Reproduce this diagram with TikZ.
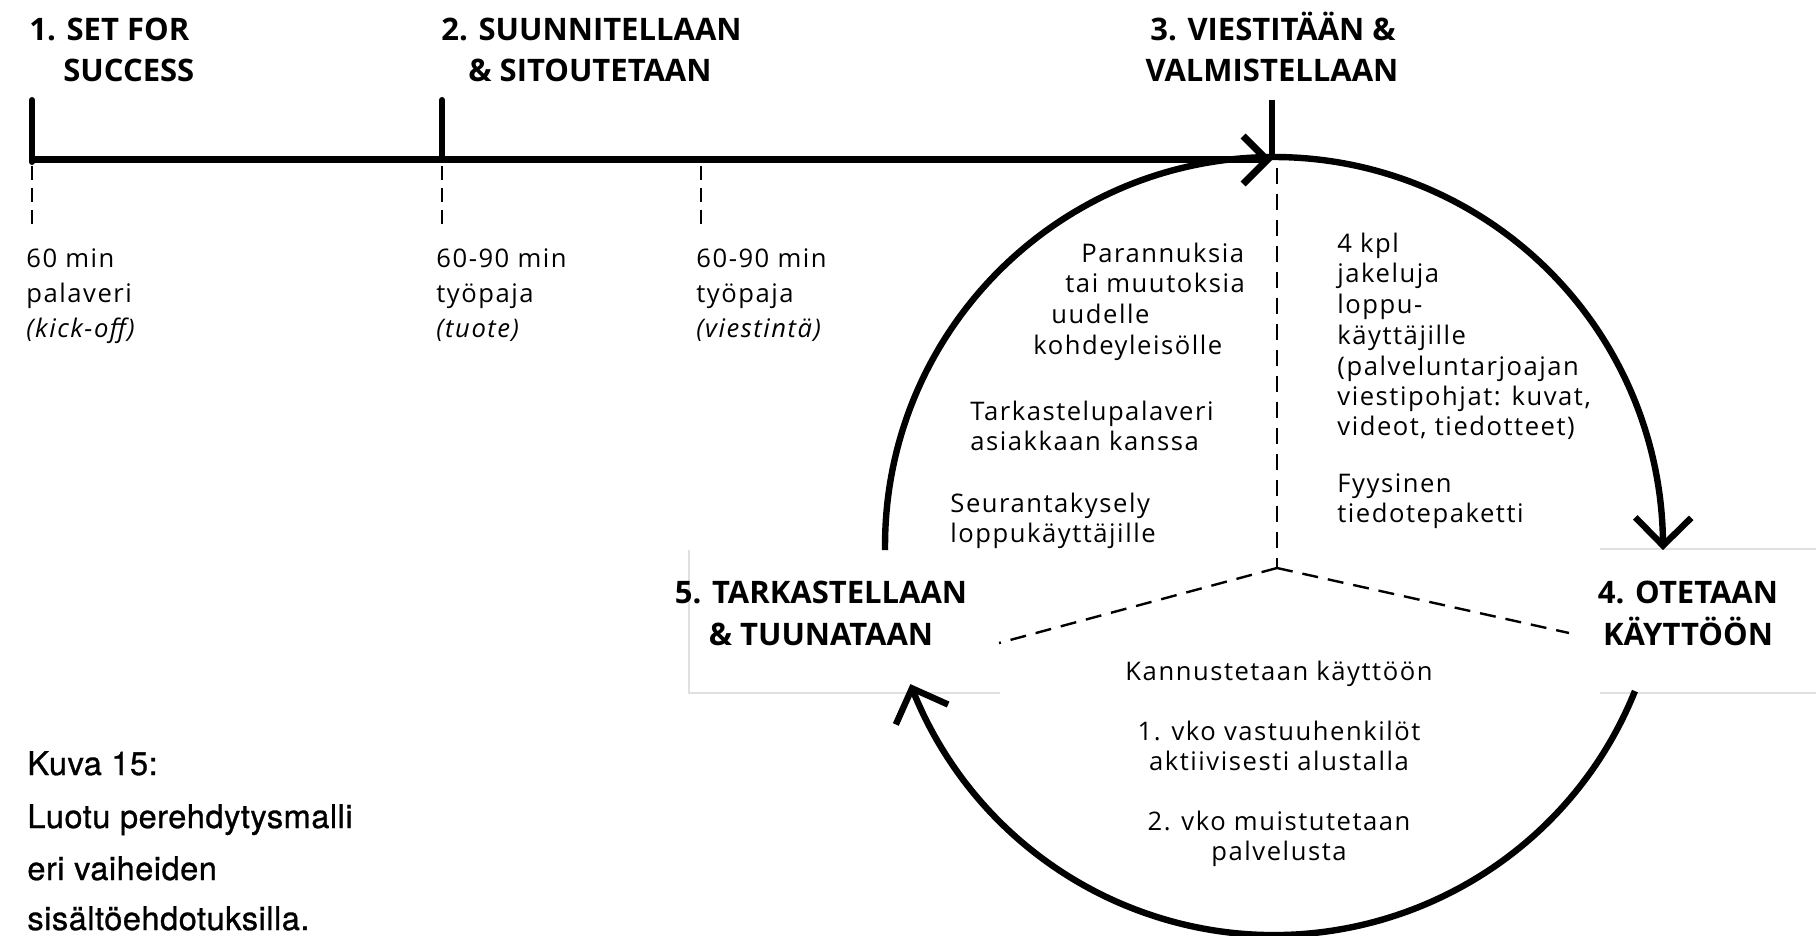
\documentclass[tikz,border=0pt]{standalone}
\usepackage{fontspec}
\newfontfamily\bodyf{Open Sans}[LetterSpace=6]
\newfontfamily\headf{Open Sans}
\newfontfamily\capf{TeX Gyre Heros}[FakeBold=0.9,LetterSpace=1.5]
\usetikzlibrary{arrows.meta,bending}

\begin{document}
\begin{tikzpicture}[x=0.5pt,y=0.5pt,
  body/.style={font=\bodyf\fontsize{12.8}{15}\selectfont,inner sep=0pt,anchor=base west},
  bodyc/.style={body,anchor=base},
  head/.style={font=\headf\bfseries\fontsize{15.5}{18}\selectfont,inner sep=0pt,anchor=base west},
  headc/.style={head,anchor=base},
  captext/.style={font=\capf\fontsize{16.3}{19}\selectfont,inner sep=0pt,anchor=base west},
  axis/.style={line width=3.5pt},
  tickline/.style={line width=3pt,line cap=round},
  guide/.style={line width=1pt,dash pattern=on 7pt off 4pt},
  split/.style={line width=1.2pt,dash pattern=on 8pt off 5pt},
  loop/.style={line width=3.2pt},
  frame/.style={draw=black!12,line width=0.8pt},
  barb/.style={-{Straight Barb[length=#1,width=2*#1]}},
]
\useasboundingbox (0,0) rectangle (1816,-936);

% faint frames behind the phase labels 4 and 5
\draw[frame] (1000,-693) -| (689,-550);
\draw[frame] (1600,-549) -- (1816,-549) (1600,-693) -- (1816,-693);

% timeline
\coordinate (s1) at (32,-160);
\coordinate (s1top) at (32,-100);
\coordinate (s2) at (442,-160);
\coordinate (s2top) at (442,-100);
\coordinate (s3) at (1272,-160);
\coordinate (s3top) at (1272,-100);
\draw[tickline] (s1top) -- (32,-162);
\draw[tickline] (s2top) -- (s2);
\draw[tickline,line cap=butt] (s3top) -- (s3);
\draw[axis,barb=12pt] (s1) -- (s3);

% dashed guides under the timeline
\coordinate (g1a) at (32,-166);  \coordinate (g1b) at (32,-225);
\coordinate (g2a) at (442,-166); \coordinate (g2b) at (442,-225);
\coordinate (g3a) at (701,-166); \coordinate (g3b) at (701,-225);
\draw[guide] (g1a) -- (g1b);
\draw[guide] (g2a) -- (g2b);
\draw[guide] (g3a) -- (g3b);

% the loop
\coordinate (ctr) at (1274,-546);
\draw[loop,barb=14pt] (ctr) ++(180.6:389) arc[start angle=180.6,end angle=-0.6,radius=389];
\draw[loop,barb=14pt] (ctr) ++(-21.9:389) arc[start angle=-21.9,end angle=-159.2,radius=389];

% sector dividers
\coordinate (hub) at (1277,-568);
\coordinate (hubtop) at (1277,-168);
\coordinate (hubl) at (999,-643);
\coordinate (hubr) at (1569,-633);
\draw[split] (hubtop) -- (hub);
\draw[split] (hub) -- (hubl);
\draw[split] (hub) -- (hubr);

% phase headings
\node[head] (h1a) at (29,-41) {1. SET FOR};
\node[head] (h1b) at (63,-82) {SUCCESS};
\node[head] (h2a) at (441,-41) {2. SUUNNITELLAAN};
\node[head] (h2b) at (468,-82) {\& SITOUTETAAN};
\node[headc] (h3a) at (1273,-41) {3. VIESTITÄÄN \&};
\node[headc] (h3b) at (1272,-82) {VALMISTELLAAN};
\node[headc] (h4a) at (1688,-603) {4. OTETAAN};
\node[headc] (h4b) at (1688,-645) {KÄYTTÖÖN};
\node[headc] (h5a) at (821,-603) {5. TARKASTELLAAN};
\node[headc] (h5b) at (821,-645) {\& TUUNATAAN};

% timeline notes
\node[body] (n1a) at (26,-268) {60 min};
\node[body] (n1b) at (26,-303) {palaveri};
\node[body] (n1c) at (26,-337) {\itshape (kick-off)};
\node[body] (n2a) at (436,-268) {60-90 min};
\node[body] (n2b) at (436,-303) {työpaja};
\node[body] (n2c) at (436,-337) {\itshape (tuote)};
\node[body] (n3a) at (696,-268) {60-90 min};
\node[body] (n3b) at (696,-303) {työpaja};
\node[body] (n3c) at (696,-337) {\itshape (viestintä)};

% review sector
\node[body] (r1) at (1081,-263) {Parannuksia};
\node[body] (r2) at (1065,-293) {tai muutoksia};
\node[body] (r3) at (1051,-324) {uudelle};
\node[body] (r4) at (1033,-355) {kohdeyleisölle};
\node[body] (r5) at (970,-420) {Tarkastelupalaveri};
\node[body] (r6) at (970,-450) {asiakkaan kanssa};
\node[body] (r7) at (950,-512) {Seurantakysely};
\node[body] (r8) at (950,-542) {loppukäyttäjille};

% communication sector
\node[body] (c1) at (1337,-253) {4 kpl};
\node[body] (c2) at (1337,-283) {jakeluja};
\node[body] (c3) at (1337,-314) {loppu-};
\node[body] (c4) at (1337,-344) {käyttäjille};
\node[body] (c5) at (1337,-375) {(palveluntarjoajan};
\node[body] (c6) at (1337,-405) {viestipohjat: kuvat,};
\node[body] (c7) at (1337,-436) {videot, tiedotteet)};
\node[body] (c8) at (1337,-492) {Fyysinen};
\node[body] (c9) at (1337,-522) {tiedotepaketti};

% adoption sector
\node[bodyc] (u1) at (1279,-680) {Kannustetaan käyttöön};
\node[bodyc] (u2) at (1279,-740) {1. vko vastuuhenkilöt};
\node[bodyc] (u3) at (1279,-770) {aktiivisesti alustalla};
\node[bodyc] (u4) at (1279,-830) {2. vko muistutetaan};
\node[bodyc] (u5) at (1279,-860) {palvelusta};

% caption
\node[captext] (k1) at (27,-775) {Kuva 15:};
\node[captext] (k2) at (27,-828) {Luotu perehdytysmalli};
\node[captext] (k3) at (27,-880) {eri vaiheiden};
\node[captext] (k4) at (27,-930) {sisältöehdotuksilla.};
\end{tikzpicture}
\end{document}
